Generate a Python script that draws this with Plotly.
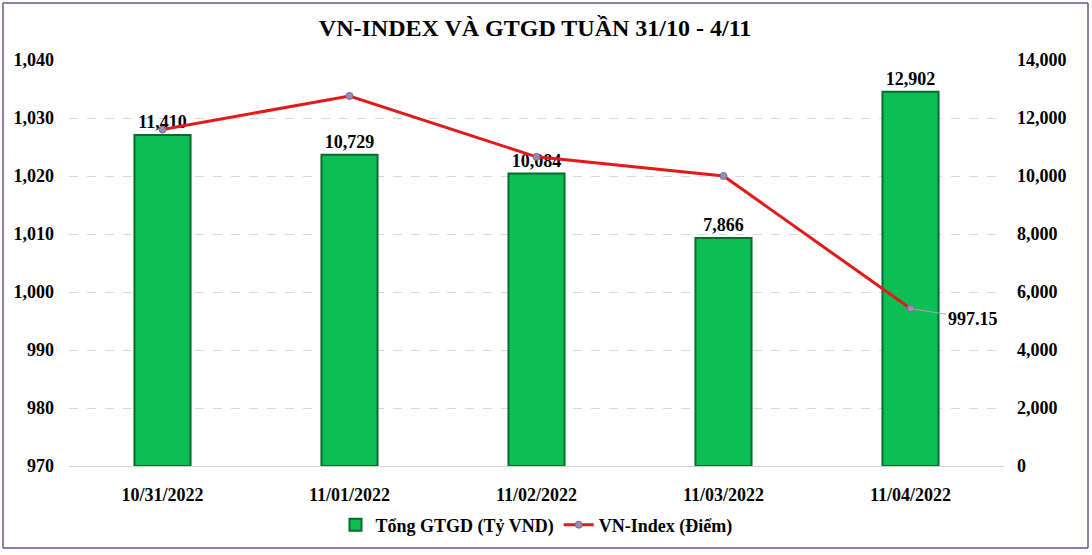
import plotly.graph_objects as go

categories = ["10/31/2022", "11/01/2022", "11/02/2022", "11/03/2022", "11/04/2022"]
gtgd = [11410, 10729, 10084, 7866, 12902]
vnindex = [1028.0, 1033.8, 1023.3, 1020.0, 997.15]
left_ticks = [970, 980, 990, 1000, 1010, 1020, 1030, 1040]
right_ticks = [0, 2000, 4000, 6000, 8000, 10000, 12000, 14000]

FONT = "Liberation Serif"
W, H = 1092, 555
ml, mr, mt, mb = 69, 88, 60, 89
pw = W - ml - mr
ph = H - mt - mb

fig = go.Figure()
fig.add_trace(go.Bar(
    x=categories, y=gtgd, name="<b>Tổng GTGD (Tỷ VND)</b>",
    marker=dict(color="#0BBF55", line=dict(color="#0A6B30", width=2)),
    width=0.3,
    text=[f"<b>{v:,}</b>" for v in gtgd], textposition="outside",
    textfont=dict(family=FONT, size=18, color="black"),
    cliponaxis=False,
    yaxis="y",
))
fig.add_trace(go.Scatter(
    x=categories, y=vnindex, name="<b>VN-Index (Điểm)</b>",
    mode="lines+markers",
    line=dict(color="#E31A1C", width=3),
    marker=dict(size=7, color="#9A8CB0", line=dict(color="#7A6A95", width=1)),
    yaxis="y2",
))

fig.add_annotation(
    x=categories[-1], y=vnindex[-1], xref="x", yref="y2",
    text="<b>997.15</b>", showarrow=True, arrowhead=0, arrowwidth=1,
    arrowcolor="#9FB0A8", ax=62, ay=10,
    font=dict(family=FONT, size=18, color="black"),
)

def px_x(X):
    return (X - ml) / pw

def px_y(Y):
    return 1 - (Y - mt) / ph

border = "#6E5090"
for (x0, y0, x1, y1) in [(3, 3, 1088, 3), (3, 548, 1088, 548), (3, 3, 3, 548), (1088, 3, 1088, 548)]:
    fig.add_shape(type="line", xref="paper", yref="paper",
                  x0=px_x(x0), x1=px_x(x1), y0=px_y(y0), y1=px_y(y1),
                  line=dict(color=border, width=1.5), layer="above")

fig.update_layout(
    width=W, height=H,
    margin=dict(l=ml, r=mr, t=mt, b=mb, autoexpand=False),
    paper_bgcolor="white", plot_bgcolor="white",
    title=dict(text="<b>VN-INDEX VÀ GTGD TUẦN 31/10 - 4/11</b>",
               x=0.49, xanchor="center", y=1 - 28 / H, yanchor="middle",
               font=dict(family=FONT, size=24, color="black")),
    font=dict(family=FONT, color="black"),
    showlegend=True,
    legend=dict(orientation="h", x=0.5, xanchor="center",
                yref="container", y=(H - 525) / H, yanchor="middle",
                bgcolor="rgba(0,0,0,0)",
                font=dict(family=FONT, size=18, color="black"),
                traceorder="normal", itemwidth=30, tracegroupgap=0),
    xaxis=dict(
        type="category", showline=True, linecolor="#D0D0D0", linewidth=1,
        ticks="", showgrid=False,
        tickfont=dict(family=FONT, size=18, color="black"),
        tickprefix="<b>", ticksuffix="</b>",
        ticklabelstandoff=12,
    ),
    yaxis=dict(
        side="right", range=[0, 14000], tickvals=right_ticks,
        ticktext=[f"<b>{v:,}</b>" for v in right_ticks],
        showgrid=True, gridcolor="#D9D9D9", griddash="dash", gridwidth=1,
        zeroline=False, showline=False,
        tickfont=dict(family=FONT, size=18, color="black"),
        ticklabelstandoff=12,
    ),
    yaxis2=dict(
        side="left", overlaying="y", range=[970, 1040], tickvals=left_ticks,
        ticktext=[f"<b>{v:,}</b>" for v in left_ticks],
        showgrid=False, zeroline=False, showline=False,
        tickfont=dict(family=FONT, size=18, color="black"),
        ticklabelstandoff=14,
    ),
)

fig.write_html("out.html", config={"displayModeBar": False},
               post_script="document.body.style.margin='0px';document.body.style.overflow='hidden';")
